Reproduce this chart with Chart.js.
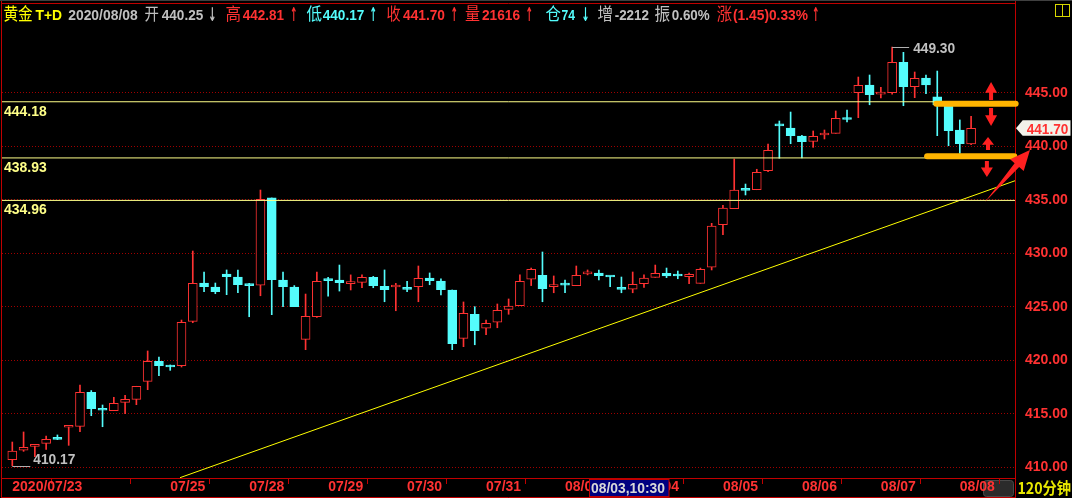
<!DOCTYPE html>
<html><head><meta charset="utf-8">
<script src="https://cdn.jsdelivr.net/npm/chart.js@4.4.1/dist/chart.umd.min.js"></script>
<style>html,body{margin:0;padding:0;background:#000;overflow:hidden}#wrap{width:1072px;height:498px}</style>
</head><body><div id="wrap"><canvas id="c" width="1072" height="498"></canvas></div>
<script>
// ---- data (120-minute candles, 2020/07/23 .. 2020/08/08) ----
const openP  = [410.73,411.61,411.98,412.26,412.66,413.76,413.85,417.03,415.40,415.31,416.09,416.37,418.05,419.92,419.42,419.51,423.66,427.24,426.87,428.08,427.80,427.04,427.03,435.19,427.52,426.87,421.98,424.09,427.49,427.52,427.18,427.30,427.77,426.93,426.87,426.67,426.90,427.71,427.43,426.59,422.07,424.32,423.01,423.57,424.78,425.12,427.59,427.96,426.90,427.08,426.99,428.10,428.18,427.83,426.67,426.66,427.18,427.77,428.15,427.92,427.83,427.21,428.71,432.69,434.19,435.95,435.96,437.74,441.95,441.73,440.98,440.48,441.07,441.23,442.55,445.03,445.75,444.90,445.03,447.87,445.59,446.40,444.65,443.90,441.54,440.25];
const highP  = [412.38,413.32,412.17,412.94,413.04,413.80,417.71,417.19,415.84,416.56,416.75,417.59,420.89,420.33,419.58,423.78,430.23,428.27,427.24,428.46,428.46,427.21,435.93,435.19,428.27,427.00,426.21,428.27,427.77,428.92,428.00,428.00,427.86,428.46,427.21,427.40,428.83,428.18,427.62,426.59,425.47,425.03,423.78,425.28,425.75,428.00,428.64,430.14,427.90,427.52,428.83,428.46,428.46,427.86,427.80,428.27,428.00,428.92,428.64,428.36,428.18,428.64,432.82,434.50,438.83,436.49,437.87,440.23,442.38,443.22,441.04,441.45,441.54,443.32,443.41,446.49,446.68,445.53,449.30,448.80,446.96,446.68,447.05,443.90,442.48,442.81];
const lowP   = [410.17,411.51,411.01,411.70,412.60,412.07,413.34,414.84,413.81,415.31,415.03,415.87,417.27,418.58,419.08,419.39,423.53,426.43,426.24,426.15,426.33,424.09,426.05,424.28,425.03,425.03,421.01,424.03,426.02,426.49,426.59,426.80,426.80,425.49,424.65,426.43,425.49,427.08,426.12,421.01,421.29,421.47,422.41,423.06,424.32,425.12,427.00,425.49,426.33,426.33,426.99,428.00,427.52,426.90,426.33,426.33,426.84,427.77,427.74,427.64,427.18,427.21,428.46,431.76,434.19,435.47,435.96,437.64,438.90,440.26,438.93,439.92,440.70,441.23,442.29,442.69,443.90,444.53,444.88,443.81,444.56,444.93,441.01,440.07,439.36,440.17];
const closeP = [411.54,411.89,412.17,412.63,412.63,413.80,417.03,415.49,415.35,416.00,416.37,417.59,419.92,419.51,419.39,423.57,427.21,426.90,426.43,427.83,427.08,427.00,435.06,427.55,426.90,425.03,424.13,427.40,427.46,427.27,427.21,427.77,426.99,426.61,426.93,426.64,427.68,427.46,426.61,421.57,424.41,422.78,423.47,424.69,425.09,427.40,428.52,426.71,427.06,427.04,427.96,428.12,427.92,427.80,426.64,427.12,427.71,428.15,427.90,427.90,428.05,428.52,432.55,434.25,435.93,435.90,437.59,439.64,441.92,441.01,440.45,440.95,441.12,442.63,442.52,445.72,444.84,444.93,447.87,445.59,446.37,445.75,443.88,441.48,440.26,441.70];
const dayTickIdx = [0,7,14,21,28,35,42,49,56,63,70,77,84];
const dayLabels  = ['2020/07/23','','07/25','07/28','07/29','07/30','07/31','08/03','08/04','08/05','08/06','08/07','08/08'];
const yTicks = [410,415,420,425,430,435,440,445];
const levelLines = [444.18, 438.93, 434.96];
const trendLine = [{x:14.87, y:409.05},{x:88.9, y:436.80}];
// drawn annotations, in (candle index, price)
const orangeBars = [{x0:81.91, x1:88.95, y:443.99},{x0:81.10, x1:88.83, y:439.09}];
const smallArrows = [{x:86.77, from:444.34, to:446.03},{x:86.77, from:443.60, to:441.92},{x:86.5, from:439.67, to:440.89},{x:86.4, from:438.64, to:437.15}];
const bigArrow = {x0:86.23, y0:434.81, x1:90.22, y1:439.67};
const cursorLabel = '08/03,10:30';
const periodLabel = '120分钟';

const X_MIN = -0.913, X_MAX = 88.892, Y_MIN = 409.018, Y_MAX = 451.073;
const RED = '#ff3232', CYAN = '#54fcfc', GRAY = '#c0c0c0', YEL = '#ffff00', PALE = '#ffff88', FRAME = '#c00000';
const N = openP.length;
const idx = openP.map((_, i) => i);
const up = idx.map(i => closeP[i] >= openP[i]);
const DIG = '"Liberation Sans", Arial, sans-serif';
const CJK = '"Noto Sans CJK SC", "Noto Sans", sans-serif';

function fitText(ctx, s, x0, x1, base, font, color) {
  ctx.save();
  ctx.font = font; ctx.fillStyle = color; ctx.textAlign = 'left'; ctx.textBaseline = 'alphabetic';
  const w = ctx.measureText(s).width;
  ctx.translate(x0, base); ctx.scale((x1 - x0) / w, 1); ctx.fillText(s, 0, 0);
  ctx.restore();
}
function hline(ctx, x0, x1, y, color) { ctx.strokeStyle = color; ctx.lineWidth = 1; ctx.beginPath(); ctx.moveTo(x0, y); ctx.lineTo(x1, y); ctx.stroke(); }
function vline(ctx, x, y0, y1, color) { ctx.strokeStyle = color; ctx.lineWidth = 1; ctx.beginPath(); ctx.moveTo(x, y0); ctx.lineTo(x, y1); ctx.stroke(); }

const deco = {
  id: 'deco',
  beforeDraw(chart) {
    const c = chart.ctx;
    c.save();
    c.fillStyle = '#000'; c.fillRect(0, 0, chart.width, chart.height);
    c.fillStyle = '#2b2b2b'; c.strokeStyle = '#4a4a4a';
    c.beginPath(); c.roundRect(983.5, 480.5, 30, 16, 3); c.fill(); c.stroke();
    c.restore();
  },
  afterDraw(chart) {
    const c = chart.ctx, xs = chart.scales.x, ys = chart.scales.y;
    const px = v => xs.getPixelForValue(v), py = v => ys.getPixelForValue(v);
    c.save();
    // frame
    vline(c, 1.5, 0, 498, FRAME);
    vline(c, 1015.5, 0, 498, FRAME);
    hline(c, 1, 1016, 497.5, FRAME);
    hline(c, 1, 1016, 3.5, FRAME);
    hline(c, 0, 1072, 0.5, '#404040');
    // header
    const last = N - 1;
    const hdr = [
      ['黄金',3.4,32.7,YEL,'c'],['T+D',35.5,62,YEL,'d'],['2020/08/08',68.2,137.7,GRAY,'d'],
      ['开',144.6,159,GRAY,'c'],[openP[last].toFixed(2),161.8,203.2,GRAY,'d'],['↓',208.3,216.5,GRAY,'a'],
      ['高',225.5,241,RED,'c'],[highP[last].toFixed(2),242.8,284,RED,'d'],['↑',290,297.5,RED,'a'],
      ['低',306.5,322,CYAN,'c'],[lowP[last].toFixed(2),322.7,364.3,CYAN,'d'],['↑',369.5,377,CYAN,'a'],
      ['收',386.4,400.5,RED,'c'],[closeP[last].toFixed(2),403,445,RED,'d'],['↑',450.5,458,RED,'a'],
      ['量',465,480,RED,'c'],['21616',482,520,RED,'d'],['↑',525.5,533,RED,'a'],
      ['仓',545.6,561,CYAN,'c'],['74',561.5,575,CYAN,'d'],['↓',581.5,589.5,CYAN,'a'],
      ['增',597.4,613,GRAY,'c'],['-2212',614.7,649,GRAY,'d'],
      ['振',654.4,670,GRAY,'c'],['0.60%',671.7,709.7,GRAY,'d'],
      ['涨',716.7,732,RED,'c'],['(1.45)0.33%',733,808,RED,'d'],['↑',812,819.5,RED,'a']
    ];
    for (const [t, a, b, col, k] of hdr) {
      if (k === 'c') fitText(c, t, a, b, 20, '17px ' + CJK, col);
      else if (k === 'd') fitText(c, t, a, b, 19.5, 'bold 15px ' + DIG, col);
      else fitText(c, t, a, b, 20.5, 'bold 19px "DejaVu Sans", sans-serif', col);
    }
    c.strokeStyle = '#d8d800'; c.lineWidth = 1;
    c.strokeRect(1055.5, 4.5, 14, 12); vline(c, 1062.5, 4.5, 16.5, '#d8d800');
    // level line labels
    for (const v of levelLines) {
      fitText(c, v.toFixed(2), 4, 46.7, py(v) + 14, 'bold 14px ' + DIG, PALE);
    }
    // extremes
    let hi = 0, lo = 0;
    for (let i = 0; i < N; i++) { if (highP[i] > highP[hi]) hi = i; if (lowP[i] < lowP[lo]) lo = i; }
    const hx = px(hi), hy = py(highP[hi]);
    hline(c, hx, hx + 17, Math.round(hy) + 0.5, '#b0b0b0');
    fitText(c, highP[hi].toFixed(2), hx + 21, hx + 63, hy + 6, 'bold 14px ' + DIG, GRAY);
    const lx = px(lo), ly = py(lowP[lo]);
    hline(c, lx, lx + 18, Math.round(ly) + 0.5, '#b0b0b0');
    fitText(c, lowP[lo].toFixed(2), lx + 21, lx + 63, ly - 2, 'bold 14px ' + DIG, GRAY);
    // orange bars
    c.strokeStyle = '#ffb400'; c.lineWidth = 6; c.lineCap = 'round';
    for (const b of orangeBars) { c.beginPath(); c.moveTo(px(b.x0), py(b.y)); c.lineTo(px(b.x1), py(b.y)); c.stroke(); }
    c.lineCap = 'butt';
    // small red arrows
    c.fillStyle = '#ff2020';
    for (const a of smallArrows) {
      const x = px(a.x), y0 = py(a.from), y1 = py(a.to);
      const dir = Math.sign(y1 - y0), len = Math.abs(y1 - y0);
      const hl = Math.min(11, len * 0.6), hw = 6, sw = 2;
      c.beginPath();
      c.moveTo(x - sw, y0); c.lineTo(x - sw, y1 - dir * hl); c.lineTo(x - hw, y1 - dir * hl);
      c.lineTo(x, y1); c.lineTo(x + hw, y1 - dir * hl); c.lineTo(x + sw, y1 - dir * hl); c.lineTo(x + sw, y0);
      c.closePath(); c.fill();
    }
    // big arrow
    {
      const tx = px(bigArrow.x0), ty = py(bigArrow.y0), hx2 = px(bigArrow.x1), hy2 = py(bigArrow.y1);
      const dx = hx2 - tx, dy = hy2 - ty, L = Math.hypot(dx, dy), ux = dx / L, uy = dy / L, nx = -uy, ny = ux;
      const bx = hx2 - 20 * ux, by = hy2 - 20 * uy;
      c.beginPath();
      c.moveTo(tx, ty);
      c.lineTo(bx + 3 * nx, by + 3 * ny); c.lineTo(bx + 9 * nx, by + 9 * ny);
      c.lineTo(hx2, hy2);
      c.lineTo(bx - 9 * nx, by - 9 * ny); c.lineTo(bx - 3 * nx, by - 3 * ny);
      c.closePath(); c.fill();
    }
    // last price tag
    {
      const y = py(closeP[last]);
      c.fillStyle = '#f2f2ea';
      c.beginPath(); c.moveTo(1016, y); c.lineTo(1022.7, y - 8); c.lineTo(1070.5, y - 8); c.lineTo(1070.5, y + 7.5); c.lineTo(1022.7, y + 7.5); c.closePath(); c.fill();
      fitText(c, closeP[last].toFixed(2), 1026.7, 1068.3, y + 5.5, 'bold 14px ' + DIG, RED);
    }
    // cursor box
    c.fillStyle = '#000080'; c.fillRect(589, 479.5, 80, 17.5);
    c.strokeStyle = FRAME; c.lineWidth = 1; c.strokeRect(589.5, 479.5, 79.5, 17);
    fitText(c, cursorLabel, 591, 665, 493, 'bold 14px ' + DIG, '#d8d8d8');
    fitText(c, periodLabel, 1017.4, 1071, 494, 'bold 16px ' + CJK, '#e8e800');
    c.restore();
  }
};

const levelSets = levelLines.map(v => ({
  type: 'line', data: [{x: X_MIN, y: v}, {x: X_MAX, y: v}], borderColor: PALE, borderWidth: 1,
  pointRadius: 0, order: 0
}));

new Chart(document.getElementById('c'), {
  type: 'bar',
  data: {
    datasets: [
      ...levelSets,
      { type: 'bar', data: idx.map(i => ({x: i, y: [openP[i], closeP[i]]})),
        backgroundColor: idx.map(i => up[i] ? '#000000' : CYAN),
        borderColor: idx.map(i => up[i] ? RED : CYAN),
        borderWidth: 1, borderSkipped: false, barThickness: 9, minBarLength: 2, grouped: false, order: 1 },
      { type: 'bar', data: idx.map(i => ({x: i, y: [lowP[i], highP[i]]})),
        backgroundColor: idx.map(i => up[i] ? RED : CYAN),
        borderWidth: 0, barThickness: 1, grouped: false, order: 2 },
      { type: 'line', data: trendLine, borderColor: YEL, borderWidth: 1, pointRadius: 0, order: 3 }
    ]
  },
  options: {
    responsive: false, animation: false, devicePixelRatio: 1, events: [],
    layout: { padding: { top: 28, left: 2, right: 0, bottom: 0 } },
    plugins: { legend: { display: false }, tooltip: { enabled: false } },
    scales: {
      x: {
        type: 'linear', min: X_MIN, max: X_MAX, offset: false,
        afterBuildTicks: s => { s.ticks = dayTickIdx.map(v => ({value: v})); },
        afterFit: s => { s.height = 20; },
        grid: { drawOnChartArea: false, drawTicks: true, tickLength: 6, color: FRAME },
        border: { display: true, color: FRAME, width: 1 },
        ticks: { autoSkip: false, maxRotation: 0, minRotation: 0, align: 'start', padding: -5,
          color: RED, font: { family: DIG, size: 14, weight: 'bold' },
          callback: (v, i) => dayLabels[i] }
      },
      y: {
        type: 'linear', position: 'right', min: Y_MIN, max: Y_MAX,
        afterBuildTicks: s => { s.ticks = yTicks.map(v => ({value: v})); },
        afterFit: s => { s.width = 57; },
        grid: { color: '#a00000', lineWidth: 1, drawTicks: false },
        border: { display: true, color: FRAME, width: 1, dash: [1, 2] },
        ticks: { padding: 10, color: RED, font: { family: DIG, size: 14, weight: 'bold' },
          callback: v => Number(v).toFixed(2) }
      }
    }
  },
  plugins: [deco]
});
</script>
</body></html>
